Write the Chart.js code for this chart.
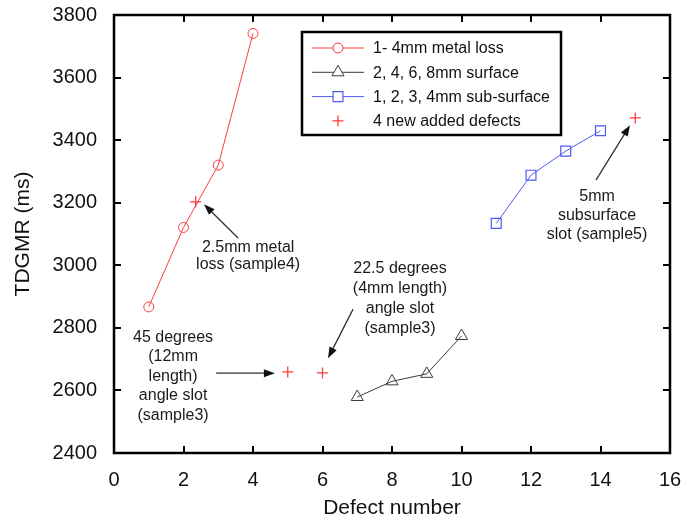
<!DOCTYPE html>
<html>
<head>
<meta charset="utf-8">
<script src="https://cdn.jsdelivr.net/npm/chart.js@4"></script>
<style>
  html, body { margin: 0; padding: 0; background: #fff; }
  #wrap { width: 696px; height: 521px; }
</style>
</head>
<body>
<div id="wrap"><canvas id="tdgmr"></canvas></div>
<script>
// defect numbers and TDGMR readings (ms)
const metalLossX = [1, 2, 3, 4];
const metalLossY = [2867, 3121, 3320, 3741];
const surfaceX = [7, 8, 9, 10];
const surfaceY = [2579, 2629, 2653, 2774];
const subSurfaceX = [11, 12, 13, 14];
const subSurfaceY = [3134, 3288, 3365, 3430];
const newDefectsX = [2.35, 5, 6, 15];
const newDefectsY = [3203, 2659, 2656, 3471];

const seriesLabels = [
  "1- 4mm metal loss",
  "2, 4, 6, 8mm surface",
  "1, 2, 3, 4mm sub-surface",
  "4 new added defects",
];
const xTicks = [0, 2, 4, 6, 8, 10, 12, 14, 16];
const yTicks = [2400, 2600, 2800, 3000, 3200, 3400, 3600, 3800];

const FONT = "'Liberation Sans', Arial, sans-serif";
const RED = "#ff3d3d";
const GREY = "#3a3a3a";
const BLUE = "#4d5af2";

const pts = (xs, ys) => xs.map((x, i) => ({ x: x, y: ys[i] }));

// callout notes: text anchored at (x, y) in data units, arrow from -> to
const notes = [
  { x: 3.86, y: 3055, lines: ["2.5mm metal", "loss (sample4)"], gap: 17,
    from: [3.57, 3087], to: [2.59, 3195] },
  { x: 1.70, y: 2770, lines: ["45 degrees", "(12mm", "length)", "angle slot", "(sample3)"], gap: 19.5,
    from: [2.94, 2655], to: [4.63, 2655] },
  { x: 8.23, y: 2991, lines: ["22.5 degrees", "(4mm length)", "angle slot", "(sample3)"], gap: 20,
    from: [6.88, 2860], to: [6.16, 2703] },
  { x: 13.9, y: 3218, lines: ["5mm", "subsurface", "slot (sample5)"], gap: 19,
    from: [13.87, 3272], to: [14.85, 3448] },
];

function arrow(ctx, x1, y1, x2, y2) {
  const a = Math.atan2(y2 - y1, x2 - x1);
  const len = 11, half = 4;
  ctx.beginPath();
  ctx.moveTo(x1, y1);
  ctx.lineTo(x2 - Math.cos(a) * len * 0.8, y2 - Math.sin(a) * len * 0.8);
  ctx.stroke();
  ctx.beginPath();
  ctx.moveTo(x2, y2);
  ctx.lineTo(x2 - Math.cos(a) * len - Math.sin(a) * half, y2 - Math.sin(a) * len + Math.cos(a) * half);
  ctx.lineTo(x2 - Math.cos(a) * len + Math.sin(a) * half, y2 - Math.sin(a) * len - Math.cos(a) * half);
  ctx.closePath();
  ctx.fill();
}

// frame, inside ticks, callouts and the boxed legend
const decorations = {
  id: "decorations",
  afterDatasetsDraw(chart) {
    const { ctx, chartArea: a, scales: { x, y } } = chart;
    ctx.save();

    // inside tick marks on all four sides
    ctx.strokeStyle = "#000";
    ctx.lineWidth = 2;
    const tl = 7;
    ctx.beginPath();
    xTicks.slice(1, -1).forEach(v => {
      const px = Math.round(x.getPixelForValue(v));
      ctx.moveTo(px, a.bottom); ctx.lineTo(px, a.bottom - tl);
      ctx.moveTo(px, a.top); ctx.lineTo(px, a.top + tl);
    });
    yTicks.slice(1, -1).forEach(v => {
      const py = Math.round(y.getPixelForValue(v));
      ctx.moveTo(a.left, py); ctx.lineTo(a.left + tl, py);
      ctx.moveTo(a.right, py); ctx.lineTo(a.right - tl, py);
    });
    ctx.stroke();

    // plot frame
    ctx.lineWidth = 2.5;
    ctx.strokeRect(a.left, a.top, a.right - a.left, a.bottom - a.top);

    // callouts
    ctx.font = "16px " + FONT;
    ctx.fillStyle = "#1a1a1a";
    ctx.textAlign = "center";
    ctx.textBaseline = "middle";
    notes.forEach(n => {
      const cx = x.getPixelForValue(n.x);
      const cy = y.getPixelForValue(n.y);
      n.lines.forEach((t, i) => ctx.fillText(t, cx, cy + i * n.gap));
    });
    ctx.strokeStyle = "#333";
    ctx.fillStyle = "#111";
    ctx.lineWidth = 1.3;
    notes.forEach(n => {
      arrow(ctx,
        x.getPixelForValue(n.from[0]), y.getPixelForValue(n.from[1]),
        x.getPixelForValue(n.to[0]), y.getPixelForValue(n.to[1]));
    });

    // legend box
    const lx = a.left + 188, ly = a.top + 17, lw = 259, lh = 103;
    ctx.fillStyle = "#fff";
    ctx.fillRect(lx, ly, lw, lh);
    ctx.strokeStyle = "#000";
    ctx.lineWidth = 2.5;
    ctx.strokeRect(lx, ly, lw, lh);
    ctx.font = "16px " + FONT;
    ctx.textAlign = "left";
    chart.data.datasets.forEach((ds, i) => {
      const ry = ly + 16 + i * 24.3;
      if (ds.showLine !== false) {
        ctx.strokeStyle = ds.borderColor;
        ctx.lineWidth = 1;
        ctx.beginPath();
        ctx.moveTo(lx + 10, ry); ctx.lineTo(lx + 62, ry);
        ctx.stroke();
      }
      ctx.fillStyle = "#fff";
      ctx.strokeStyle = ds.pointBorderColor;
      ctx.lineWidth = ds.pointBorderWidth;
      Chart.helpers.drawPoint(ctx, {
        pointStyle: ds.pointStyle, radius: ds.pointRadius, borderWidth: ds.pointBorderWidth, rotation: 0,
      }, lx + 36, ry);
      ctx.fillStyle = "#111";
      ctx.fillText(ds.label, lx + 71, ry + 1);
    });

    ctx.restore();
  },
};

new Chart(document.getElementById("tdgmr"), {
  type: "scatter",
  data: {
    datasets: [
      {
        label: seriesLabels[0], data: pts(metalLossX, metalLossY), showLine: true,
        borderColor: RED, borderWidth: 1, pointStyle: "circle", pointRadius: 5,
        pointBorderColor: RED, pointBackgroundColor: "rgba(0,0,0,0)", pointBorderWidth: 1,
      },
      {
        label: seriesLabels[1], data: pts(surfaceX, surfaceY), showLine: true,
        borderColor: GREY, borderWidth: 1, pointStyle: "triangle", pointRadius: 7,
        pointBorderColor: GREY, pointBackgroundColor: "rgba(0,0,0,0)", pointBorderWidth: 1,
      },
      {
        label: seriesLabels[2], data: pts(subSurfaceX, subSurfaceY), showLine: true,
        borderColor: BLUE, borderWidth: 1, pointStyle: "rect", pointRadius: 7,
        pointBorderColor: BLUE, pointBackgroundColor: "rgba(0,0,0,0)", pointBorderWidth: 1.2,
      },
      {
        label: seriesLabels[3], data: pts(newDefectsX, newDefectsY), showLine: false,
        borderColor: RED, pointStyle: "cross", pointRadius: 5.5,
        pointBorderColor: RED, pointBackgroundColor: RED, pointBorderWidth: 1.3,
      },
    ],
  },
  options: {
    responsive: true,
    maintainAspectRatio: false,
    animation: false,
    layout: { padding: { top: 15, right: 26, left: 0, bottom: 0 } },
    plugins: {
      legend: { display: false },
      tooltip: { enabled: false },
    },
    scales: {
      x: {
        type: "linear", min: 0, max: 16,
        afterBuildTicks: s => { s.ticks = xTicks.map(v => ({ value: v })); },
        afterFit: s => { s.height = 68; s.paddingLeft = 0; s.paddingRight = 0; },
        grid: { display: false, drawTicks: false },
        border: { display: false },
        ticks: {
          padding: 15, color: "#111", font: { family: FONT, size: 20 },
          callback: v => String(v),
        },
        title: {
          display: true, text: "Defect number", color: "#111",
          font: { family: FONT, size: 21 }, padding: { top: 0, bottom: 0 },
        },
      },
      y: {
        type: "linear", min: 2400, max: 3800,
        afterBuildTicks: s => { s.ticks = yTicks.map(v => ({ value: v })); },
        afterFit: s => { s.width = 114; s.paddingTop = 0; s.paddingBottom = 0; },
        grid: { display: false, drawTicks: false },
        border: { display: false },
        ticks: {
          padding: 17, color: "#111", font: { family: FONT, size: 20 },
          callback: v => String(v),
        },
        title: {
          display: true, text: "TDGMR (ms)", color: "#111",
          font: { family: FONT, size: 21 }, padding: { top: 11, bottom: 0 },
        },
      },
    },
  },
  plugins: [decorations],
});
</script>
</body>
</html>
